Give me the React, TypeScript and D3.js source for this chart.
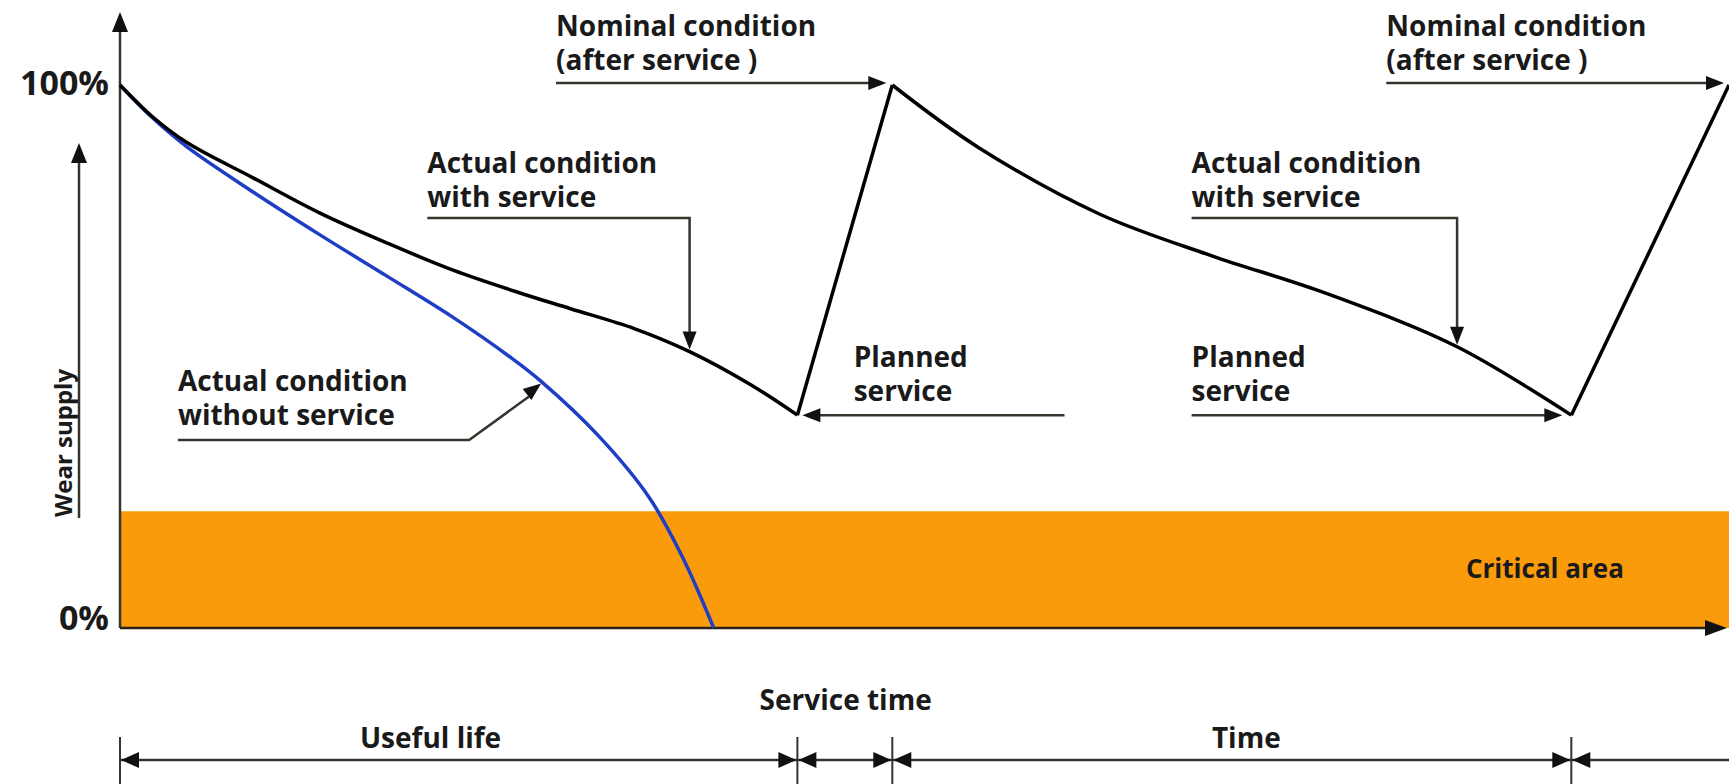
import * as d3 from "d3";

const W = 1729;
const H = 784;

// condition with service (time units, % of wear supply)
const cycle1T = [0, 0.2, 0.416, 0.827, 1.243, 1.659, 2.07, 2.486, 2.8, 3.2, 3.54, 3.92, 4.21];
const cycle1V = [100, 94.2, 89.4, 82.9, 76.4, 70.9, 65.9, 61.7, 58.8, 55.1, 50.9, 44.8, 39.2];
const cycle2T = [4.8, 5.33, 6.09, 6.79, 7.48, 8.31, 9.02];
const cycle2V = [100, 88.6, 76.2, 68.5, 61.8, 51.8, 39.2];
const restoredT = [4.8, 10]; // back to nominal after service
const nominalV = 100;

// condition without service
const noServiceT = [0, 0.2, 0.416, 0.827, 1.243, 1.659, 2.07, 2.42, 2.61, 2.98, 3.29, 3.5, 3.69];
const noServiceV = [100, 94.0, 88.6, 80.3, 72.4, 64.8, 57.2, 50.0, 45.6, 35.2, 24.0, 12.8, 0];

const criticalLevel = 21.5;
const yTickValues = [0, 100];
const yTickLabels = ["0%", "100%"];

// timeline below the chart
const milestones = [0, 4.21, 4.8, 9.02];
const spanLabels = ["Useful life", "Service time", "Time"];
const spanLabelT = [1.93, 4.51, 7.0];

const FONT = "'Open Sans', sans-serif";
const INK = "#35352d";

function valueAt(ts: number[], vs: number[], t: number) {
  const i = Math.max(1, d3.bisectLeft(ts, t));
  const k = (t - ts[i - 1]) / (ts[i] - ts[i - 1]);
  return vs[i - 1] + k * (vs[i] - vs[i - 1]);
}

function head(tx: number, ty: number, fx: number, fy: number, len = 18, hw = 7) {
  const a = Math.atan2(ty - fy, tx - fx);
  const bx = tx - len * Math.cos(a);
  const by = ty - len * Math.sin(a);
  const px = -Math.sin(a) * hw;
  const py = Math.cos(a) * hw;
  return `M${tx},${ty}L${bx + px},${by + py}L${bx - px},${by - py}Z`;
}

function Label({ x, y, lines, size = 28 }: { x: number; y: number; lines: string[]; size?: number }) {
  return (
    <text x={x} y={y} fontFamily={FONT} fontWeight={700} fontSize={size} fill="#1a1a1a">
      {lines.map((l, i) => (
        <tspan key={i} x={x} dy={i === 0 ? 0 : 34}>
          {l}
        </tspan>
      ))}
    </text>
  );
}

export default function App() {
  const x = d3.scaleLinear().domain([0, 10]).range([120, W]);
  const y = d3.scaleLinear().domain([0, 100]).range([628, 85]);

  const smooth = d3
    .line<[number, number]>()
    .x((d) => x(d[0]))
    .y((d) => y(d[1]))
    .curve(d3.curveCatmullRom.alpha(0.5));
  const straight = d3
    .line<[number, number]>()
    .x((d) => x(d[0]))
    .y((d) => y(d[1]));

  const c1 = cycle1T.map((t, i) => [t, cycle1V[i]] as [number, number]);
  const c2 = cycle2T.map((t, i) => [t, cycle2V[i]] as [number, number]);
  const rise1: [number, number][] = [c1[c1.length - 1], [restoredT[0], nominalV]];
  const rise2: [number, number][] = [c2[c2.length - 1], [restoredT[1], nominalV]];
  const blue = noServiceT.map((t, i) => [t, noServiceV[i]] as [number, number]);

  const x0 = x(0);
  const yBase = y(0);
  const valley1 = c1[c1.length - 1];
  const valley2 = c2[c2.length - 1];

  // annotation anchors
  const nominal = [
    { lx: x(2.71), tipX: x(restoredT[0]) - 6 },
    { lx: x(7.87), tipX: x(restoredT[1]) - 5 },
  ];
  const withSvc = [
    { lx: x(1.91), t: 3.54, ts: cycle1T, vs: cycle1V },
    { lx: x(6.66), t: 8.31, ts: cycle2T, vs: cycle2V },
  ];
  const withLineY = y(75.5);
  const noLineY = y(34.6);
  const noTipT = 2.63;
  const noTip = [x(noTipT), y(valueAt(noServiceT, noServiceV, noTipT))];
  const noBendX = x(2.17);
  const valleyY = y(valley1[1]);

  const lineY = 760;

  return (
    <svg width={W} height={H} style={{ position: "absolute", left: 0, top: 0, background: "#fff" }}>
      {/* critical area */}
      <rect x={x0} y={y(criticalLevel)} width={W - x0} height={yBase - y(criticalLevel)} fill="#f99b0a" />
      <text x={1466} y={578} fontFamily={FONT} fontWeight={700} fontSize={26} fill="#1a1a1a">
        Critical area
      </text>

      {/* axes */}
      <line x1={x0} y1={yBase} x2={x0} y2={30} stroke={INK} strokeWidth={2.5} />
      <path d={head(x0, 12, x0, 40, 20, 8)} fill="#111" />
      <line x1={x0} y1={yBase} x2={1708} y2={yBase} stroke="#2a2218" strokeWidth={2.5} />
      <path d={head(1727, yBase, 1700, yBase, 22, 8)} fill="#111" />
      {yTickValues.map((v, i) => (
        <text
          key={v}
          x={109}
          y={y(v) + (v === 0 ? 2 : 10)}
          textAnchor="end"
          fontFamily={FONT}
          fontWeight={700}
          fontSize={34}
          fill="#1a1a1a"
        >
          {yTickLabels[i]}
        </text>
      ))}

      {/* wear supply arrow */}
      <line x1={79} y1={518} x2={79} y2={160} stroke={INK} strokeWidth={2.5} />
      <path d={head(79, 143, 79, 170, 20, 8)} fill="#111" />
      <text
        transform="translate(72,517) rotate(-90)"
        fontFamily={FONT}
        fontWeight={700}
        fontSize={24}
        fill="#1a1a1a"
      >
        Wear supply
      </text>

      {/* curves */}
      <path d={smooth(blue) ?? ""} fill="none" stroke="#1f3ec6" strokeWidth={3.5} />
      <path d={smooth(c1) ?? ""} fill="none" stroke="#000" strokeWidth={3.5} />
      <path d={straight(rise1) ?? ""} fill="none" stroke="#000" strokeWidth={3.5} />
      <path d={smooth(c2) ?? ""} fill="none" stroke="#000" strokeWidth={3.5} />
      <path d={straight(rise2) ?? ""} fill="none" stroke="#000" strokeWidth={3.5} />

      {/* nominal condition */}
      {nominal.map((n, i) => (
        <g key={"n" + i}>
          <Label x={n.lx} y={y(nominalV) - 49} lines={["Nominal condition", "(after service )"]} />
          <line x1={n.lx} y1={y(nominalV) - 2} x2={n.tipX - 14} y2={y(nominalV) - 2} stroke={INK} strokeWidth={2.5} />
          <path d={head(n.tipX, y(nominalV) - 2, n.lx, y(nominalV) - 2)} fill="#111" />
        </g>
      ))}

      {/* actual condition with service */}
      {withSvc.map((w, i) => {
        const tx = x(w.t);
        const ty = y(valueAt(w.ts, w.vs, w.t)) - 2;
        return (
          <g key={"w" + i}>
            <Label x={w.lx} y={withLineY - 45} lines={["Actual condition", "with service"]} />
            <path
              d={`M${w.lx},${withLineY}H${tx}V${ty - 14}`}
              fill="none"
              stroke={INK}
              strokeWidth={2.5}
            />
            <path d={head(tx, ty, tx, withLineY)} fill="#111" />
          </g>
        );
      })}

      {/* actual condition without service */}
      <Label x={x(0.36)} y={noLineY - 49} lines={["Actual condition", "without service"]} />
      <path
        d={`M${x(0.36)},${noLineY}H${noBendX}L${noTip[0] - 10},${noTip[1] + 10}`}
        fill="none"
        stroke={INK}
        strokeWidth={2.5}
      />
      <path d={head(noTip[0] - 2, noTip[1], noBendX, noLineY)} fill="#111" />

      {/* planned service */}
      <Label x={x(4.56)} y={valleyY - 48} lines={["Planned", "service"]} />
      <line x1={x(5.87)} y1={valleyY} x2={x(valley1[0]) + 18} y2={valleyY} stroke={INK} strokeWidth={2.5} />
      <path d={head(x(valley1[0]) + 5, valleyY, x(5.87), valleyY)} fill="#111" />
      <Label x={x(6.66)} y={valleyY - 48} lines={["Planned", "service"]} />
      <line x1={x(6.66)} y1={valleyY} x2={x(valley2[0]) - 22} y2={valleyY} stroke={INK} strokeWidth={2.5} />
      <path d={head(x(valley2[0]) - 9, valleyY, x(6.66), valleyY)} fill="#111" />

      {/* timeline */}
      <line x1={x0} y1={lineY} x2={W} y2={lineY} stroke={INK} strokeWidth={2.5} />
      {milestones.map((m) => (
        <line key={m} x1={x(m)} y1={737} x2={x(m)} y2={H} stroke={INK} strokeWidth={2} />
      ))}
      {milestones.map((m, i) => {
        const a = x(m);
        const b = i + 1 < milestones.length ? x(milestones[i + 1]) : W + 40;
        return (
          <g key={"s" + i}>
            <path d={head(a + 1, lineY, b, lineY, 18, 8)} fill="#111" />
            {i + 1 < milestones.length && <path d={head(b - 1, lineY, a, lineY, 18, 8)} fill="#111" />}
          </g>
        );
      })}
      {spanLabels.map((s, i) => (
        <text
          key={s}
          x={x(spanLabelT[i])}
          y={s === "Service time" ? 710 : 748}
          textAnchor="middle"
          fontFamily={FONT}
          fontWeight={700}
          fontSize={28}
          fill="#1a1a1a"
        >
          {s}
        </text>
      ))}
    </svg>
  );
}
